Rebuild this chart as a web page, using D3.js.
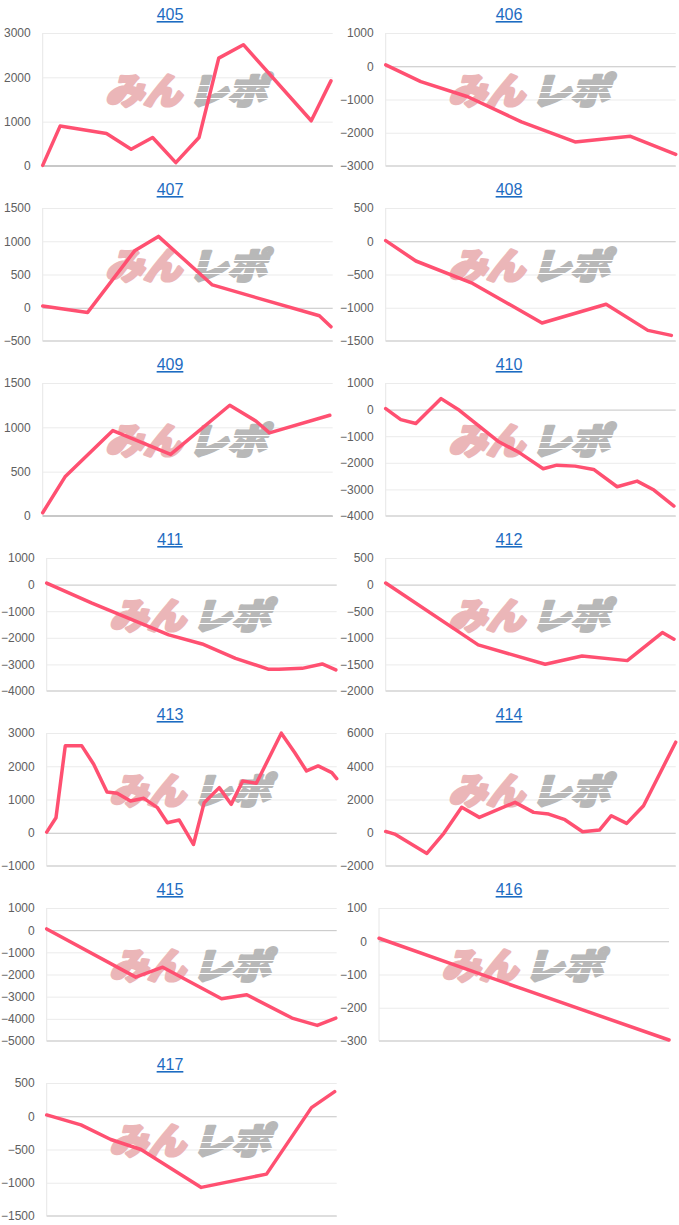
<!DOCTYPE html>
<html>
<head>
<meta charset="utf-8">
<script src="https://cdn.jsdelivr.net/npm/d3@7"></script>
<style>
  body { margin: 0; background: #fff; }
  svg { display: block; font-family: Arial, "Liberation Sans", sans-serif; }
  .tick text { fill: #606060; font-size: 12px; }
  .ttl { fill: #1d6cc2; font-size: 16px; text-decoration: underline; }
</style>
</head>
<body>
<div id="chart"></div>
<script>
  var width = 679;
  var height = 1225;

  // machine numbers (panel titles)
  var titles = ["405","406","407","408","409","410","411","412","413","414","415","416","417"];

  // y axis tick labels for each panel
  var ticks405 = [0, 1000, 2000, 3000];
  var ticks406 = [-3000, -2000, -1000, 0, 1000];
  var ticks407 = [-500, 0, 500, 1000, 1500];
  var ticks408 = [-1500, -1000, -500, 0, 500];
  var ticks409 = [0, 500, 1000, 1500];
  var ticks410 = [-4000, -3000, -2000, -1000, 0, 1000];
  var ticks411 = [-4000, -3000, -2000, -1000, 0, 1000];
  var ticks412 = [-2000, -1500, -1000, -500, 0, 500];
  var ticks413 = [-1000, 0, 1000, 2000, 3000];
  var ticks414 = [-2000, 0, 2000, 4000, 6000];
  var ticks415 = [-5000, -4000, -3000, -2000, -1000, 0, 1000];
  var ticks416 = [-300, -200, -100, 0, 100];
  var ticks417 = [-1500, -1000, -500, 0, 500];

  // series: [position through the day (0-100), balance]
  var s405 = [[0,15],[6,900],[22,733],[30.5,378],[37.9,642],[45.9,75],[53.9,642],[60.7,2434],[69.2,2736],[92.6,1020],[99.4,1920]];
  var s406 = [[0,40],[12.1,-463],[28.3,-917],[46.8,-1673],[65.3,-2277],[84.4,-2106],[100,-2650]];
  var s407 = [[0,25],[15.5,-70],[31.7,856],[39.9,1073],[58.5,343],[95.4,-121],[99.4,-287]];
  var s408 = [[0,10],[10.4,-297],[30,-635],[53.9,-1229],[76,-947],[90.4,-1340],[98.5,-1416]];
  var s409 = [[0,37],[7.7,442],[24.2,964],[44.1,694],[64.5,1249],[73.6,1069],[78.2,938],[99,1136]];
  var s410 = [[0,38],[5.2,-375],[10.4,-525],[19.1,413],[25.4,-25],[38.7,-1188],[46.2,-1625],[54.3,-2225],[59,-2088],[65.3,-2125],[71.7,-2250],[79.8,-2900],[86.7,-2688],[92.5,-3025],[99.4,-3625]];
  var s411 = [[0,58],[15.6,-698],[42.1,-1892],[53.6,-2231],[65.1,-2771],[76.6,-3186],[80,-3180],[88.1,-3148],[95,-2984],[99.7,-3209]];
  var s412 = [[0,29],[31.9,-1133],[55,-1497],[67.7,-1341],[83.3,-1429],[95.4,-901],[99.4,-1027]];
  var s413 = [[0,20],[3.2,452],[6.4,2613],[12.1,2613],[16.2,2060],[20.8,1226],[24.3,1186],[28.9,955],[33.5,1035],[38.2,754],[41.6,302],[45.7,382],[50.6,-352],[54.3,905],[59.5,1357],[63.6,854],[67.6,1558],[72.3,1487],[80.9,2995],[85.5,2412],[89.6,1859],[93.6,2010],[98.3,1809],[100,1628]];
  var s414 = [[0,80],[3.1,-80],[14.2,-1246],[20.1,-20],[26.2,1528],[32.3,925],[44.6,1829],[51,1226],[56.2,1126],[61.8,784],[67.9,60],[73.7,161],[77.8,1025],[83.1,563],[88.9,1628],[100,5447]];
  var s415 = [[0,55],[30.7,-2120],[40,-1670],[60.3,-3095],[69,-2915],[84.6,-3965],[93.3,-4295],[99.7,-3965]];
  var s416 = [[0,9],[50,-145],[100,-297]];
  var s417 = [[0,20],[11.8,-130],[22.1,-350],[32.5,-500],[53.3,-1070],[75.8,-870],[91.3,130],[99.3,370]];

  var tickSets = [ticks405,ticks406,ticks407,ticks408,ticks409,ticks410,ticks411,ticks412,ticks413,ticks414,ticks415,ticks416,ticks417];
  var seriesSets = [s405,s406,s407,s408,s409,s410,s411,s412,s413,s414,s415,s416,s417];

  var svg = d3.select("#chart")
              .append("svg")
              .attr("width", width)
              .attr("height", height);

  // measure label widths
  var probe = svg.append("g").attr("class","tick").append("text");
  function textW(s){
    probe.text(s);
    return probe.node().getComputedTextLength();
  }

  titles.forEach(function(t, i){
    var col = i % 2, row = Math.floor(i / 2);
    var px = col * 339;
    var top = 33 + row * 175;
    var bottom = top + 133;
    var ticks = tickSets[i];
    var maxW = d3.max(ticks, function(v){ return textW(String(v)); });
    var left = px + 4 + maxW + 12;
    var right = left + 290;

    var x = d3.scaleLinear().domain([0, 100]).range([left, right]);
    var y = d3.scaleLinear().domain(d3.extent(ticks)).range([bottom, top]);

    var g = svg.append("g");

    // title
    g.append("text")
      .attr("class","ttl")
      .attr("x", px + 170)
      .attr("y", top - 13)
      .attr("text-anchor","middle")
      .text(t);

    // vertical axis line
    g.append("line")
      .attr("x1", left).attr("x2", left)
      .attr("y1", top).attr("y2", bottom)
      .style("stroke","#e6e6e6");

    // gridlines + labels
    var ax = g.append("g")
      .attr("transform","translate(" + left + ",0)")
      .call(d3.axisLeft(y).tickValues(ticks).tickSize(-(right - left)).tickPadding(12).tickFormat(d3.format("d")));
    ax.select(".domain").remove();
    ax.selectAll(".tick line")
      .style("stroke", function(d){ return d === 0 ? "#c4c4c4" : "#ebebeb"; })
      .style("stroke-width", 1);
    ax.selectAll(".tick text").style("font-family","Arial, 'Liberation Sans', sans-serif");
    // bottom edge of the plot
    g.append("line")
      .attr("x1", left).attr("x2", right)
      .attr("y1", bottom).attr("y2", bottom)
      .style("stroke", ticks[0] === 0 ? "#c8c8c8" : "#dedede")
      .style("stroke-width", 2);

    // watermark
    var cx = (left + right) / 2, cy = (top + bottom) / 2 - 8;
    var wm = g.append("g").attr("transform","translate(" + cx + "," + cy + ") skewX(-16)");
    wm.append("text")
      .attr("x", -3).attr("y", 12)
      .attr("text-anchor","end")
      .attr("textLength", 76).attr("lengthAdjust","spacingAndGlyphs")
      .style("font-family","'Noto Sans CJK JP', sans-serif")
      .style("font-weight","900")
      .style("font-size","36px")
      .style("fill","#ebb6b8")
      .style("stroke","#ebb6b8")
      .style("stroke-width",3)
      .style("stroke-linejoin","round")
      .text("みん");
    wm.append("text")
      .attr("x", 4).attr("y", 12)
      .attr("text-anchor","start")
      .attr("textLength", 78).attr("lengthAdjust","spacingAndGlyphs")
      .style("font-family","'Noto Sans CJK JP', sans-serif")
      .style("font-weight","900")
      .style("font-size","36px")
      .style("fill","#b8b8b8")
      .style("stroke","#b8b8b8")
      .style("stroke-width",3)
      .style("stroke-linejoin","round")
      .text("レポ");
    [-6, 1, 7].forEach(function(dy){
      wm.append("line")
        .attr("x1", 2).attr("x2", 86)
        .attr("y1", dy).attr("y2", dy)
        .style("stroke","#fff").style("stroke-width",1.2);
    });

    // balance line
    var line = d3.line()
      .x(function(d){ return x(d[0]); })
      .y(function(d){ return y(d[1]); });
    g.append("path")
      .datum(seriesSets[i])
      .attr("d", line)
      .style("fill","none")
      .style("stroke","#ff5071")
      .style("stroke-width",3.5)
      .style("stroke-linejoin","round")
      .style("stroke-linecap","round");
  });

  probe.node().parentNode.remove();
</script>
</body>
</html>
